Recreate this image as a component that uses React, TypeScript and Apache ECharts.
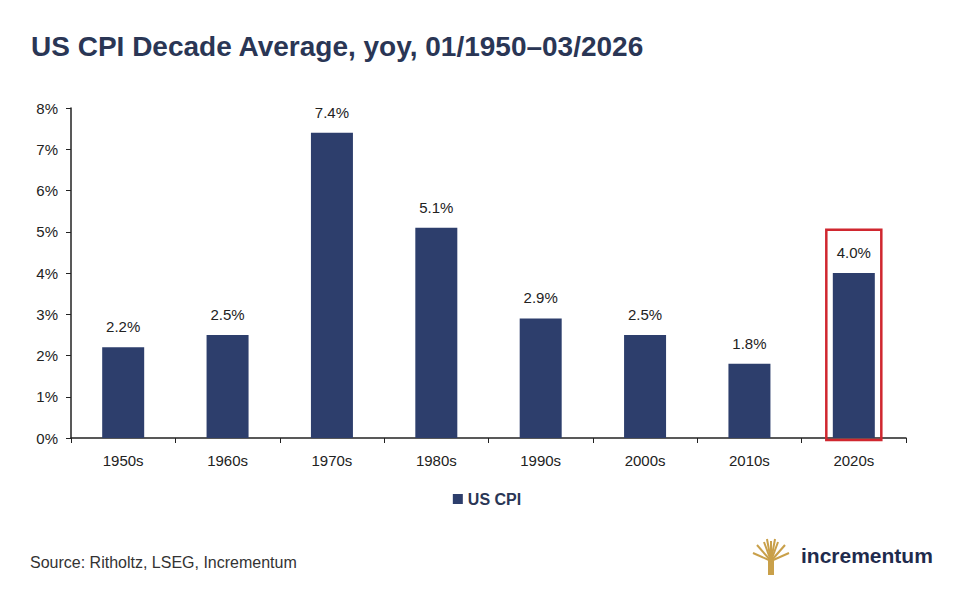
import React, { useEffect, useRef } from "react";
import * as echarts from "echarts";

const categories = ["1950s", "1960s", "1970s", "1980s", "1990s", "2000s", "2010s", "2020s"];
const cpiValues = [2.2, 2.5, 7.4, 5.1, 2.9, 2.5, 1.8, 4.0];
const yTicks = [0, 1, 2, 3, 4, 5, 6, 7, 8];
const highlightCategory = "2020s";
const highlightTop = 5.05;

const FONT = "'Liberation Sans', Arial, sans-serif";
const NAVY = "#2d3e6c";

export default function App() {
  const ref = useRef<HTMLDivElement>(null);
  useEffect(() => {
    if (!ref.current) return;
    const chart = echarts.init(ref.current, undefined, { renderer: "svg" });
    chart.setOption({
      animation: false,
      backgroundColor: "#ffffff",
      textStyle: { fontFamily: FONT },
      grid: { left: 63, right: 60, top: 100, bottom: 153, containLabel: false },
      title: {
        text: "US CPI Decade Average, yoy, 01/1950\u201303/2026",
        left: 18,
        top: 19,
        textStyle: { fontFamily: FONT, fontSize: 28, fontWeight: "bold", color: "#2a3655" },
      },
      legend: {
        data: ["US CPI"],
        left: "center",
        top: 478,
        itemWidth: 10,
        itemHeight: 10,
        icon: "rect",
        itemGap: 6,
        textStyle: { fontFamily: FONT, fontSize: 16, fontWeight: "bold", color: "#2a3655" },
      },
      xAxis: {
        type: "category",
        data: categories,
        axisLine: { lineStyle: { color: "#222", width: 1.5 } },
        axisTick: { show: true, inside: false, length: 5, alignWithLabel: false, lineStyle: { color: "#222" } },
        axisLabel: { margin: 15, fontSize: 15, color: "#222", fontFamily: FONT },
      },
      yAxis: {
        type: "value",
        min: 0,
        max: 8,
        interval: 1,
        splitLine: { show: false },
        axisLine: { show: true, lineStyle: { color: "#222", width: 1.5 } },
        axisTick: { show: true, length: 5, lineStyle: { color: "#222" } },
        axisLabel: {
          margin: 13,
          fontSize: 15,
          color: "#222",
          fontFamily: FONT,
          formatter: (v: number) => (yTicks.includes(v) ? v + "%" : ""),
        },
      },
      series: [
        {
          name: "US CPI",
          type: "bar",
          data: cpiValues,
          barWidth: 42,
          itemStyle: { color: NAVY },
          label: {
            show: true,
            position: "top",
            distance: 13,
            fontSize: 15,
            color: "#222",
            fontFamily: FONT,
            formatter: (p: any) => p.value.toFixed(1) + "%",
          },
        },
      ],
    });

    const idx = categories.indexOf(highlightCategory);
    const topPt = chart.convertToPixel({ gridIndex: 0 }, [idx, highlightTop]) as number[];
    const basePt = chart.convertToPixel({ gridIndex: 0 }, [idx, 0]) as number[];
    const boxW = 55;
    const goldLines: any[] = [];
    const cx = 763, by = 567;
    const branches = [
      [763, 533], [756, 534], [749, 537], [770, 534], [777, 537], [745, 545], [781, 545], [759, 531], [767, 531],
    ];
    branches.forEach(([x2, y2]) => {
      goldLines.push({
        type: "line",
        shape: { x1: cx, y1: 553, x2, y2 },
        style: { stroke: "#c9a04a", lineWidth: 2 },
      });
    });
    chart.setOption({
      graphic: [
        {
          type: "rect",
          shape: { x: topPt[0] - boxW / 2, y: topPt[1], width: boxW, height: basePt[1] - topPt[1] + 2 },
          style: { fill: "none", stroke: "#d0272f", lineWidth: 2.5 },
          z: 100,
        },
        {
          type: "text",
          left: 22,
          top: 546,
          style: { text: "Source: Ritholtz, LSEG, Incrementum", fontFamily: FONT, fontSize: 16, fill: "#333" },
        },
        {
          type: "rect",
          shape: { x: cx - 3, y: 550, width: 6, height: by - 550 },
          style: { fill: "#c9a04a" },
        },
        ...goldLines,
        {
          type: "text",
          left: 793,
          top: 537,
          style: { text: "incrementum", fontFamily: FONT, fontSize: 21, fontWeight: "bold", fill: "#1f2b4d" },
        },
      ],
    });
    return () => chart.dispose();
  }, []);
  return <div ref={ref} style={{ width: 958, height: 583 }} />;
}
